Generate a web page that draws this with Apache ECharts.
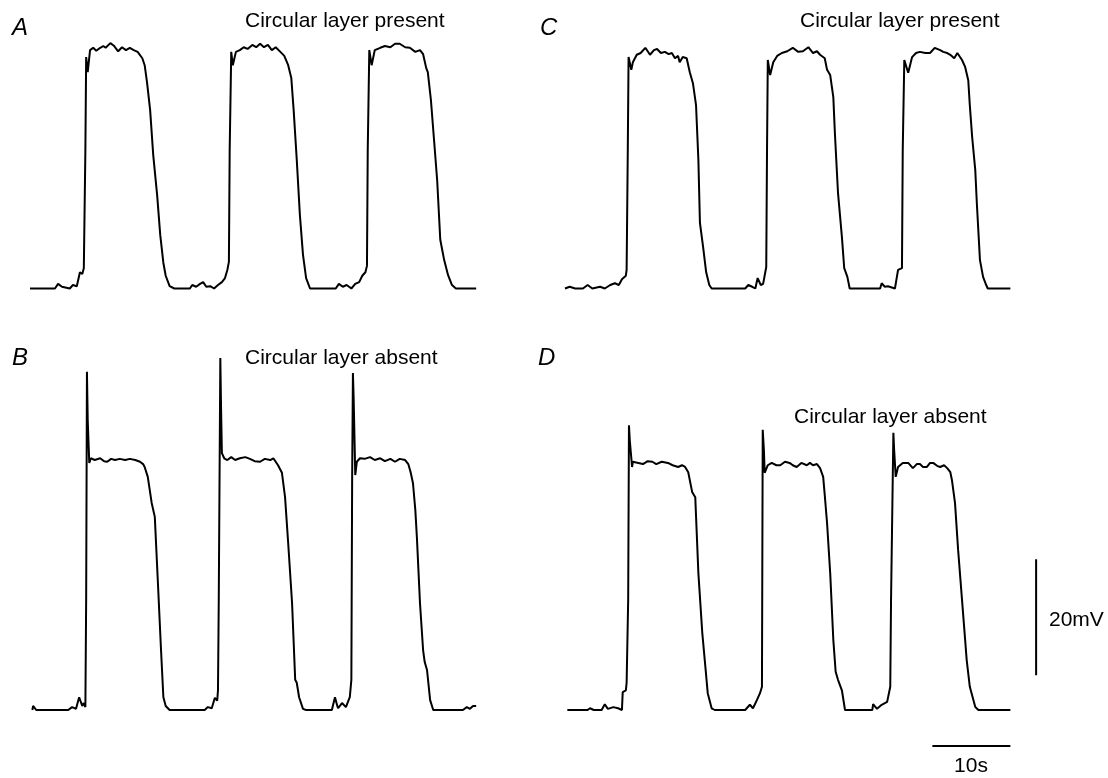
<!DOCTYPE html>
<html>
<head>
<meta charset="utf-8">
<script src="https://cdn.jsdelivr.net/npm/echarts@6/dist/echarts.min.js"></script>
<style>
html,body{margin:0;padding:0;background:#fff;}
#chart{width:1108px;height:778px;}
</style>
</head>
<body>
<div id="chart"></div>
<script>
// time (s), membrane potential relative to resting level (mV)
const traceA = [[0,0],[3.2,0],[3.6,0.8],[4.1,0.3],[5.1,0],[5.5,0.6],[6.0,0.4],[6.4,2.8],[6.7,2.5],[6.9,3.5],[7.1,23.9],[7.2,39.9],[7.4,37.3],[7.7,41.1],[8.1,41.5],[8.5,41.0],[9.0,41.5],[9.4,41.8],[9.7,41.5],[10.3,42.3],[10.8,41.8],[11.3,40.9],[11.8,41.6],[12.3,41.1],[12.8,41.5],[13.3,41.1],[13.8,40.8],[14.4,39.7],[14.7,38.5],[15.0,35.6],[15.4,30.8],[15.8,23.0],[16.3,16.1],[16.7,9.2],[17.1,4.4],[17.4,2.2],[17.9,0.4],[18.5,0],[20.5,0],[20.8,0.6],[21.3,0.3],[21.8,0.8],[22.2,1.1],[22.6,0.3],[23.1,0.4],[23.6,0],[24.1,0.6],[24.6,1.1],[25.0,1.8],[25.3,3.2],[25.5,4.6],[25.6,23.9],[25.8,40.8],[26.0,38.5],[26.4,40.8],[26.9,41.1],[27.4,41.6],[27.9,41.3],[28.5,42.0],[29.0,41.6],[29.5,42.2],[30.0,41.6],[30.5,42.0],[31.0,41.1],[31.5,41.6],[32.1,40.8],[32.6,40.1],[33.1,38.5],[33.5,36.3],[33.8,30.8],[34.2,22.2],[34.6,12.7],[35.0,5.8],[35.4,1.8],[35.9,0],[39.2,0],[39.6,0.8],[40.1,0.3],[40.6,0.6],[41.2,0],[41.7,0.8],[42.2,1.1],[42.6,2.2],[43.0,2.8],[43.2,3.9],[43.3,23.9],[43.5,41.1],[43.8,38.5],[44.2,41.1],[44.9,41.5],[45.5,41.8],[46.2,41.6],[46.8,42.2],[47.4,42.2],[48.1,41.6],[48.7,41.5],[49.4,40.8],[50.0,41.1],[50.4,40.4],[50.8,38.0],[51.0,37.3],[51.4,32.5],[51.8,25.6],[52.2,18.7],[52.6,8.4],[53.1,4.9],[53.6,2.3],[54.1,0.6],[54.6,0],[57.2,0]];

const traceB = [[0.3,0],[0.4,0.7],[0.8,0],[4.9,0],[5.4,0.5],[5.9,0.2],[6.3,2.2],[6.7,0.7],[6.9,1.2],[7.1,0.5],[7.2,19.0],[7.3,58.3],[7.4,50.0],[7.6,42.6],[7.8,43.4],[8.3,43.1],[9.0,43.4],[9.5,42.9],[9.9,42.8],[10.4,43.3],[10.9,43.1],[11.5,43.3],[12.2,43.1],[12.8,43.3],[13.5,43.1],[14.1,42.8],[14.5,42.4],[14.7,41.9],[15.1,40.2],[15.6,35.7],[16.0,33.3],[16.4,21.9],[16.8,10.3],[17.1,2.2],[17.4,0.7],[17.9,0],[22.4,0],[22.8,0.5],[23.3,0.3],[23.7,2.1],[24.0,1.6],[24.1,3.4],[24.2,19.0],[24.4,60.7],[24.5,51.7],[24.6,44.3],[24.9,43.4],[25.3,43.1],[25.8,43.6],[26.3,43.1],[26.9,43.4],[27.6,43.6],[28.2,43.3],[28.8,42.9],[29.5,42.8],[30.1,43.3],[30.8,43.1],[31.2,43.4],[31.5,42.8],[31.8,42.2],[32.3,40.9],[32.7,36.7],[33.1,28.8],[33.6,18.4],[34.0,5.2],[34.2,4.7],[34.5,2.2],[35.0,0.2],[35.4,0],[38.7,0],[39.1,2.2],[39.4,0.7],[39.5,0.3],[40.0,1.2],[40.5,0.5],[41.0,2.2],[41.2,5.2],[41.3,39.7],[41.4,58.1],[41.5,53.4],[41.7,40.5],[41.9,42.8],[42.3,43.4],[42.9,43.3],[43.6,43.6],[44.2,43.1],[44.9,43.4],[45.5,42.9],[46.2,43.3],[46.8,42.8],[47.4,43.3],[48.1,43.1],[48.5,42.4],[48.8,41.0],[49.1,39.1],[49.4,34.5],[49.6,29.8],[50.0,18.4],[50.4,10.3],[50.6,8.3],[50.9,6.9],[51.3,1.7],[51.7,0],[55.5,0],[56.0,0.5],[56.4,0.2],[56.8,0.7],[57.2,0.7]];

const traceC = [[0,0],[0.6,0.3],[1.3,0],[2.3,0],[2.9,0.6],[3.5,0],[4.5,0.3],[5.1,0],[5.8,0.6],[6.4,0.9],[6.9,0.6],[7.3,1.6],[7.8,2.2],[7.9,3.2],[8.05,23.9],[8.15,39.9],[8.5,37.7],[8.7,39.0],[9.2,40.3],[9.7,40.6],[10.3,41.5],[10.9,40.3],[11.4,41.1],[11.8,41.3],[12.3,40.6],[12.8,40.8],[13.3,40.4],[13.7,40.6],[14.1,39.7],[14.5,40.1],[14.7,39.0],[15.1,39.9],[15.6,39.7],[16.0,37.3],[16.4,35.4],[16.8,31.6],[17.1,22.2],[17.3,11.3],[17.7,7.2],[18.1,2.8],[18.5,0.6],[18.8,0],[23.1,0],[23.5,0.6],[24.0,0.3],[24.4,0],[24.7,1.8],[25.1,0.6],[25.4,0.8],[25.8,3.7],[25.9,23.9],[26.0,39.4],[26.3,36.8],[26.7,39.0],[27.2,40.1],[27.8,40.6],[28.5,40.9],[29.2,41.5],[29.9,40.8],[30.5,40.9],[31.2,41.6],[31.8,40.6],[32.3,40.9],[32.7,40.3],[33.3,39.7],[33.6,37.7],[34.0,36.8],[34.4,33.0],[34.6,26.8],[35.0,16.5],[35.5,8.9],[35.8,3.5],[36.2,2.0],[36.5,0],[40.4,0],[40.6,0.9],[41.0,0.3],[41.4,0.4],[42.3,0],[42.7,3.2],[43.2,3.5],[43.3,23.9],[43.5,39.4],[44.0,37.2],[44.5,39.9],[45.0,40.6],[45.5,40.8],[46.2,40.6],[46.8,40.6],[47.4,41.5],[48.1,41.1],[48.5,40.8],[49.0,40.6],[49.4,40.3],[49.9,39.7],[50.3,40.6],[50.9,39.4],[51.3,38.2],[51.7,35.9],[51.9,31.6],[52.2,26.1],[52.6,20.4],[52.8,14.7],[53.2,4.9],[53.6,2.0],[54.0,0.6],[54.2,0],[57.1,0]];

const traceD = [[0.3,0],[2.9,0],[3.2,0.3],[3.7,0],[4.7,0],[5.1,1.0],[5.5,0.2],[6.2,0.5],[6.8,0.3],[7.3,0],[7.4,3.1],[7.8,3.4],[7.9,4.7],[8.1,19.0],[8.2,49.1],[8.3,46.6],[8.6,41.9],[8.7,42.8],[9.4,42.6],[10.0,42.4],[10.6,42.9],[11.2,42.8],[11.7,42.4],[11.9,42.2],[12.4,42.8],[13.2,42.6],[13.8,42.2],[14.5,41.9],[15.0,42.2],[15.4,41.9],[15.8,41.0],[16.3,37.6],[16.7,36.7],[17.1,23.6],[17.6,13.3],[18.0,7.4],[18.3,2.9],[18.8,0.3],[19.2,0],[23.1,0],[23.7,0.9],[24.1,0.3],[24.6,1.7],[25.0,2.9],[25.25,4.0],[25.35,48.3],[25.5,44.8],[25.6,40.9],[26.0,42.2],[26.5,42.6],[27.1,42.2],[27.6,42.2],[28.2,42.8],[28.8,42.6],[29.2,42.2],[29.7,41.9],[30.3,42.6],[31.0,42.2],[31.4,42.6],[31.8,42.2],[32.3,42.4],[32.7,41.7],[33.1,40.2],[33.3,37.1],[33.6,32.2],[34.0,23.6],[34.4,12.1],[34.7,6.6],[35.0,5.2],[35.5,3.4],[35.9,0],[39.4,0],[39.5,1.0],[40.0,0.2],[40.6,0.9],[41.3,1.4],[41.7,4.0],[41.8,19.0],[42.1,47.8],[42.2,44.8],[42.4,40.2],[42.7,41.9],[43.3,42.6],[44.0,42.6],[44.6,41.7],[45.1,42.4],[45.5,42.4],[45.9,41.9],[46.4,41.9],[46.8,42.6],[47.2,42.6],[47.7,42.1],[48.1,41.9],[48.6,42.2],[49.0,41.7],[49.4,41.0],[49.6,39.7],[50.0,35.7],[50.4,27.6],[50.9,19.0],[51.3,12.1],[51.5,8.6],[51.9,4.0],[52.6,0.5],[53.0,0],[57.1,0]];

// scale bars (panel D coordinates)
const scaleTime = [[47.1,-6.2],[57.1,-6.2]];     // 10 s
const scaleVolt = [[60.4,6.0],[60.4,26.0]];       // 20 mV

const panelLetters = ['A','B','C','D'];
const panelTitles = ['Circular layer present','Circular layer absent','Circular layer present','Circular layer absent'];
const scaleLabels = ['20mV','10s'];

const chart = echarts.init(document.getElementById('chart'), null, {renderer:'canvas'});
const font = '"Liberation Sans", Arial, Helvetica, sans-serif';
const lineStyle = {color:'#000', width:2};
function ser(data, idx){
  return {type:'line', data:data, xAxisIndex:idx, yAxisIndex:idx, showSymbol:false, symbol:'none',
    lineStyle:lineStyle, animation:false, silent:true, smooth:false};
}
function txt(x,y,text,size,italic,align){
  return {type:'text', left:undefined, x:x, y:y, silent:true,
    style:{text:text, fill:'#000', font:(italic?'italic ':'')+size+'px '+font, textAlign:align||'left', textVerticalAlign:'middle'}};
}
chart.setOption({
  backgroundColor:'#fff',
  animation:false,
  grid:[
    {left:30, top:10.1, width:468, height:290},
    {left:30, top:350.4, width:468, height:371.2},
    {left:565, top:10.1, width:468, height:290},
    {left:565, top:350.4, width:483.6, height:406}
  ],
  xAxis:[
    {type:'value', gridIndex:0, min:0, max:60, show:false},
    {type:'value', gridIndex:1, min:0, max:60, show:false},
    {type:'value', gridIndex:2, min:0, max:60, show:false},
    {type:'value', gridIndex:3, min:0, max:62, show:false}
  ],
  yAxis:[
    {type:'value', gridIndex:0, min:-2, max:48, show:false},
    {type:'value', gridIndex:1, min:-2, max:62, show:false},
    {type:'value', gridIndex:2, min:-2, max:48, show:false},
    {type:'value', gridIndex:3, min:-8, max:62, show:false}
  ],
  series:[
    ser(traceA,0), ser(traceB,1), ser(traceC,2), ser(traceD,3),
    ser(scaleTime,3), ser(scaleVolt,3)
  ],
  graphic:[
    txt(12,28.5,panelLetters[0],24,true),
    txt(12,358,panelLetters[1],24,true),
    txt(540,28.5,panelLetters[2],24,true),
    txt(538,358.5,panelLetters[3],24,true),
    txt(245,21.5,panelTitles[0],21,false),
    txt(245,358.5,panelTitles[1],21,false),
    txt(800,21.5,panelTitles[2],21,false),
    txt(794,417,panelTitles[3],21,false),
    txt(1049,620,scaleLabels[0],21,false),
    txt(971,766,scaleLabels[1],21,false,'center')
  ]
});
</script>
</body>
</html>
